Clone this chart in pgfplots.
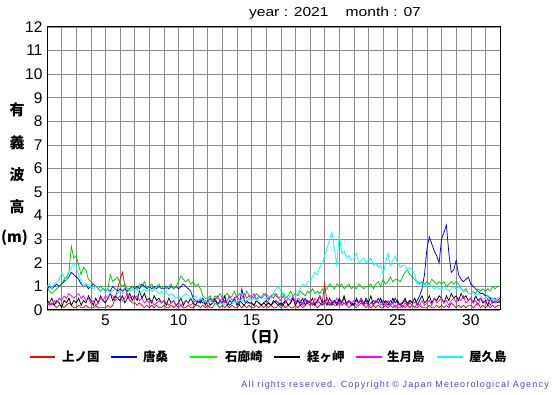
\documentclass[border=0pt]{standalone}
\usepackage{pgfplots}
\pgfplotsset{compat=1.18}
\usepackage{pgfplotstable}
\usepackage{fontspec}
\setmainfont{Liberation Sans}
\newfontfamily\cjk{Noto Sans CJK JP}
\definecolor{cgreen}{RGB}{0,200,0}
\definecolor{ccyan}{RGB}{0,255,255}
\definecolor{cmag}{RGB}{255,0,255}
\definecolor{ccopy}{RGB}{70,70,230}

\pgfplotstableread[row sep=\\,header=false]{
0.3\\0.2\\0.3\\0.2\\0.1\\0.2\\
0.2\\0.1\\0.2\\0.3\\0.2\\0.1\\
0.1\\0.2\\0.1\\0.1\\0.2\\0.1\\
0.1\\0.1\\0.2\\0.1\\0.1\\0.1\\
0.1\\0.2\\0.1\\0.2\\0.5\\0.9\\
1.3\\1.6\\1.0\\0.6\\0.4\\0.3\\
0.3\\0.2\\0.3\\0.2\\0.1\\0.2\\
0.1\\0.2\\0.1\\0.2\\0.1\\0.1\\
0.2\\0.1\\0.1\\0.2\\0.1\\0.2\\
0.1\\0.2\\0.1\\0.1\\0.2\\0.1\\
0.1\\0.2\\0.2\\0.1\\0.2\\0.1\\
0.2\\0.1\\0.1\\0.3\\0.2\\0.1\\
0.2\\0.1\\0.2\\0.1\\0.2\\0.1\\
0.1\\0.2\\0.1\\0.2\\0.1\\0.2\\
0.1\\0.1\\0.2\\0.1\\0.2\\0.1\\
0.2\\0.1\\0.2\\0.1\\0.1\\0.2\\
0.1\\0.2\\0.1\\0.2\\0.1\\0.1\\
0.2\\0.1\\0.2\\0.1\\0.2\\0.3\\
0.2\\0.3\\0.2\\0.1\\0.2\\0.3\\
1.1\\0.3\\0.2\\0.3\\0.2\\0.2\\
0.3\\0.2\\0.3\\0.2\\0.1\\0.2\\
0.2\\0.1\\0.2\\0.3\\0.2\\0.1\\
0.2\\0.1\\0.2\\0.1\\0.2\\0.1\\
0.1\\0.2\\0.1\\0.2\\0.1\\0.2\\
0.1\\0.1\\0.2\\0.1\\0.2\\0.1\\
0.2\\0.1\\0.1\\0.2\\0.1\\0.1\\
0.1\\0.2\\0.1\\0.1\\0.2\\0.1\\
0.2\\0.1\\0.2\\0.1\\0.3\\0.2\\
0.1\\0.2\\0.1\\0.2\\0.1\\0.2\\
0.2\\0.1\\0.2\\0.3\\0.1\\0.2\\
0.1\\0.2\\0.1\\0.2\\0.1\\0.2\\
0.2\\
}\tred

\pgfplotstableread[row sep=\\,header=false]{
0.9\\1.0\\0.9\\1.0\\1.1\\1.0\\
1.1\\1.2\\1.3\\1.4\\1.6\\1.5\\
1.4\\1.3\\1.1\\1.0\\1.1\\0.9\\
1.0\\1.1\\1.0\\0.9\\0.8\\0.9\\
0.8\\0.9\\0.8\\1.0\\0.9\\0.8\\
0.9\\0.8\\0.9\\0.8\\0.9\\1.0\\
0.9\\1.0\\0.9\\1.1\\1.0\\0.9\\
1.0\\0.9\\1.0\\0.9\\1.0\\0.9\\
0.9\\1.0\\0.9\\1.0\\0.9\\1.0\\
0.9\\1.0\\1.1\\1.0\\0.9\\0.8\\
0.5\\0.4\\0.3\\0.4\\0.3\\0.3\\
0.4\\0.5\\0.3\\0.4\\0.3\\0.3\\
0.3\\0.4\\0.3\\0.2\\0.3\\0.4\\
0.3\\0.2\\0.9\\0.4\\0.3\\0.3\\
0.3\\0.2\\0.4\\0.3\\0.2\\0.3\\
0.4\\0.3\\0.2\\0.3\\0.4\\0.3\\
0.2\\0.3\\0.4\\0.2\\0.3\\0.5\\
0.3\\0.4\\0.2\\0.3\\0.5\\0.3\\
0.4\\0.2\\0.3\\0.4\\0.3\\0.2\\
0.3\\0.5\\0.3\\0.2\\0.4\\0.3\\
0.4\\0.3\\0.5\\0.3\\0.4\\0.2\\
0.3\\0.4\\0.3\\0.5\\0.3\\0.4\\
0.2\\0.3\\0.4\\0.3\\0.5\\0.3\\
0.4\\0.3\\0.2\\0.4\\0.3\\0.5\\
0.3\\0.2\\0.3\\0.4\\0.3\\0.4\\
0.3\\0.3\\0.4\\0.6\\0.9\\1.5\\
2.6\\3.1\\2.8\\2.5\\2.3\\2.0\\
3.0\\3.3\\3.6\\2.4\\1.6\\1.7\\
2.1\\1.5\\1.3\\1.2\\1.3\\1.4\\
1.1\\1.0\\0.9\\0.8\\0.7\\0.7\\
0.6\\0.6\\0.5\\0.5\\0.5\\0.4\\
0.5\\
}\tblue

\pgfplotstableread[row sep=\\,header=false]{
1.0\\0.8\\0.7\\0.8\\0.9\\1.0\\
1.1\\1.3\\1.4\\1.6\\2.7\\2.2\\
2.3\\1.9\\1.5\\1.8\\1.7\\1.3\\
1.2\\1.1\\1.0\\0.9\\1.0\\0.9\\
0.8\\0.9\\1.5\\1.2\\1.3\\1.4\\
1.1\\1.0\\1.1\\0.9\\0.9\\1.0\\
1.0\\0.9\\1.1\\1.0\\1.2\\0.9\\
1.0\\1.1\\0.9\\1.0\\1.1\\0.9\\
1.0\\0.9\\1.0\\1.1\\0.9\\1.0\\
1.2\\1.45\\1.3\\1.2\\1.3\\1.1\\
1.2\\1.0\\1.1\\0.9\\0.6\\0.5\\
0.5\\0.6\\0.4\\0.6\\0.5\\0.7\\
0.5\\0.6\\0.7\\0.5\\0.6\\0.8\\
0.5\\0.7\\0.6\\0.5\\0.8\\0.6\\
0.6\\0.5\\0.7\\0.6\\0.5\\0.6\\
0.7\\0.5\\0.6\\0.7\\0.6\\0.5\\
0.6\\0.7\\0.5\\0.6\\0.8\\0.6\\
0.7\\0.6\\0.8\\0.7\\0.6\\0.8\\
0.7\\0.9\\0.7\\0.8\\0.7\\0.9\\
0.8\\0.9\\1.1\\1.0\\0.9\\1.1\\
1.0\\1.1\\0.9\\1.0\\1.1\\0.9\\
1.0\\0.9\\1.1\\1.0\\0.9\\1.0\\
1.0\\1.1\\0.9\\1.1\\1.2\\1.0\\
1.3\\1.1\\1.2\\1.4\\1.2\\1.3\\
1.3\\1.2\\1.4\\1.6\\1.7\\1.5\\
1.4\\1.3\\1.2\\1.1\\1.2\\1.1\\
1.2\\1.1\\1.3\\1.2\\1.1\\1.2\\
1.1\\1.2\\1.0\\1.1\\1.2\\1.1\\
1.2\\1.1\\0.9\\0.8\\0.9\\0.7\\
0.7\\0.8\\0.7\\0.9\\0.8\\0.9\\
0.8\\0.9\\0.8\\1.0\\0.9\\1.0\\
1.0\\
}\tgreen

\pgfplotstableread[row sep=\\,header=false]{
0.4\\0.3\\0.5\\0.2\\0.4\\0.3\\
0.1\\0.4\\0.3\\0.5\\0.2\\0.4\\
0.3\\0.5\\0.2\\0.4\\0.3\\0.6\\
0.4\\0.2\\0.5\\0.3\\0.6\\0.4\\
0.3\\0.5\\0.7\\0.4\\0.6\\0.5\\
0.4\\0.6\\0.3\\0.5\\0.7\\0.4\\
0.6\\0.4\\0.8\\0.5\\0.7\\0.4\\
0.5\\0.3\\0.6\\0.4\\0.5\\0.3\\
0.4\\0.2\\0.5\\0.3\\0.4\\0.2\\
0.3\\0.5\\0.2\\0.4\\0.3\\0.5\\
0.3\\0.2\\0.4\\0.3\\0.5\\0.2\\
0.4\\0.2\\0.3\\0.5\\0.2\\0.4\\
0.3\\0.6\\0.2\\0.4\\0.3\\0.5\\
0.2\\0.4\\0.3\\0.2\\0.4\\0.3\\
0.3\\0.2\\0.4\\0.3\\0.2\\0.3\\
0.2\\0.3\\0.2\\0.4\\0.3\\0.2\\
0.3\\0.2\\0.4\\0.2\\0.3\\0.5\\
0.2\\0.4\\0.3\\0.5\\0.2\\0.4\\
0.3\\0.5\\0.2\\0.4\\0.6\\0.3\\
0.4\\0.2\\0.5\\0.3\\0.4\\0.2\\
0.5\\0.3\\0.6\\0.2\\0.4\\0.3\\
0.2\\0.5\\0.3\\0.4\\0.2\\0.5\\
0.3\\0.6\\0.2\\0.4\\0.3\\0.5\\
0.2\\0.4\\0.3\\0.2\\0.5\\0.3\\
0.4\\0.2\\0.3\\0.5\\0.2\\0.4\\
0.3\\0.5\\0.2\\0.4\\0.6\\0.3\\
0.4\\0.6\\0.3\\0.5\\0.4\\0.6\\
0.5\\0.3\\0.6\\0.4\\0.7\\0.5\\
0.6\\0.4\\0.7\\0.5\\0.6\\0.4\\
0.5\\0.3\\0.6\\0.4\\0.5\\0.3\\
0.4\\0.2\\0.5\\0.3\\0.4\\0.3\\
0.4\\
}\tblack

\pgfplotstableread[row sep=\\,header=false]{
0.2\\0.3\\0.2\\0.4\\0.3\\0.5\\
0.4\\0.6\\0.5\\0.7\\0.6\\0.5\\
0.6\\0.7\\0.5\\0.6\\0.4\\0.5\\
0.3\\0.4\\0.2\\0.3\\0.5\\0.4\\
0.6\\0.5\\0.7\\0.6\\0.4\\0.5\\
0.6\\0.4\\0.5\\0.7\\0.5\\0.6\\
0.5\\0.6\\0.4\\0.5\\0.3\\0.4\\
0.3\\0.4\\0.2\\0.3\\0.4\\0.3\\
0.4\\0.3\\0.2\\0.3\\0.4\\0.2\\
0.3\\0.2\\0.3\\0.4\\0.3\\0.2\\
0.3\\0.4\\0.3\\0.5\\0.4\\0.3\\
0.4\\0.5\\0.3\\0.4\\0.6\\0.4\\
0.5\\0.3\\0.4\\0.6\\0.4\\0.5\\
0.6\\0.4\\0.5\\0.7\\0.5\\0.6\\
0.5\\0.7\\0.4\\0.6\\0.5\\0.7\\
0.6\\0.4\\0.6\\0.5\\0.7\\0.5\\
0.4\\0.6\\0.3\\0.5\\0.4\\0.6\\
0.3\\0.5\\0.4\\0.2\\0.4\\0.3\\
0.4\\0.2\\0.5\\0.3\\0.6\\0.4\\
0.3\\0.5\\0.2\\0.4\\0.3\\0.5\\
0.2\\0.4\\0.3\\0.2\\0.4\\0.3\\
0.4\\0.2\\0.3\\0.5\\0.2\\0.3\\
0.2\\0.3\\0.2\\0.4\\0.3\\0.2\\
0.3\\0.2\\0.4\\0.2\\0.3\\0.1\\
0.2\\0.3\\0.1\\0.3\\0.2\\0.3\\
0.2\\0.1\\0.3\\0.2\\0.4\\0.2\\
0.3\\0.4\\0.2\\0.5\\0.3\\0.4\\
0.5\\0.3\\0.4\\0.2\\0.4\\0.5\\
0.3\\0.5\\0.4\\0.6\\0.3\\0.4\\
0.5\\0.3\\0.4\\0.2\\0.5\\0.4\\
0.3\\0.5\\0.2\\0.4\\0.3\\0.4\\
0.3\\
}\tmag

\pgfplotstableread[row sep=\\,header=false]{
1.0\\1.1\\0.9\\1.1\\1.2\\1.3\\
1.6\\1.4\\1.3\\1.6\\1.8\\2.0\\
1.8\\1.5\\1.2\\1.0\\1.1\\1.0\\
1.0\\0.9\\1.0\\0.9\\0.8\\0.9\\
0.8\\0.9\\0.7\\0.8\\0.9\\0.7\\
0.8\\0.7\\0.8\\0.9\\0.8\\0.9\\
0.8\\0.9\\0.7\\0.8\\0.9\\0.8\\
0.9\\0.8\\0.9\\0.8\\0.7\\0.8\\
0.7\\0.8\\0.6\\0.7\\0.6\\0.5\\
0.6\\0.5\\0.6\\0.7\\0.6\\0.5\\
0.5\\0.6\\0.4\\0.5\\0.4\\0.4\\
0.3\\0.4\\0.3\\0.3\\0.2\\0.3\\
0.3\\0.2\\0.3\\0.3\\0.3\\0.4\\
0.3\\0.4\\0.4\\0.3\\0.4\\0.5\\
0.4\\0.5\\0.4\\0.5\\0.6\\0.5\\
0.5\\0.6\\0.5\\0.7\\0.9\\1.0\\
0.8\\0.7\\0.6\\0.5\\0.6\\0.6\\
0.6\\0.7\\0.9\\1.1\\1.0\\1.2\\
1.2\\1.4\\1.6\\1.5\\1.8\\2.0\\
2.3\\2.6\\3.0\\3.3\\2.6\\1.9\\
3.2\\2.4\\2.5\\2.2\\2.3\\2.1\\
2.2\\2.4\\2.0\\2.1\\2.2\\2.0\\
2.1\\2.2\\1.9\\2.0\\1.8\\1.9\\
1.5\\2.0\\2.4\\1.9\\2.1\\2.3\\
2.0\\1.8\\1.9\\1.9\\1.7\\1.8\\
1.7\\1.5\\1.1\\1.2\\1.0\\1.1\\
1.0\\1.1\\1.0\\0.9\\1.0\\0.9\\
0.9\\1.0\\0.9\\0.8\\0.9\\1.0\\
0.9\\1.0\\0.9\\0.8\\0.8\\0.7\\
0.7\\0.8\\0.6\\0.7\\0.6\\0.5\\
0.5\\0.6\\0.4\\0.5\\0.4\\0.5\\
0.6\\
}\tcyan

\begin{document}
\begin{tikzpicture}[x=1pt,y=1pt]
\begin{axis}[
  at={(47pt,85pt)}, anchor=south west,
  scale only axis, width=453pt, height=283pt,
  xmin=1, xmax=32, ymin=0, ymax=12,
  xtick={5,10,...,30}, minor xtick={1,...,32},
  ytick={0,1,...,12},
  grid=both,
  major grid style={black!45, line width=0.5pt},
  minor grid style={black!45, line width=0.5pt},
  major tick length=0pt, minor tick length=0pt,
  axis line style={black, line width=1pt},
  tick label style={font=\fontsize{15.5}{17}\selectfont},
  /pgf/number format/assume math mode=true,
  xticklabel style={yshift=-1pt},
  yticklabel style={xshift=-1pt},
  clip=true,
]
\addplot[red, line width=0.75pt] table[x expr=1+\coordindex/6, y index=0] {\tred};
\addplot[blue, line width=0.75pt] table[x expr=1+\coordindex/6, y index=0] {\tblue};
\addplot[cgreen, line width=0.75pt] table[x expr=1+\coordindex/6, y index=0] {\tgreen};
\addplot[black, line width=0.75pt] table[x expr=1+\coordindex/6, y index=0] {\tblack};
\addplot[cmag, line width=0.75pt] table[x expr=1+\coordindex/6, y index=0] {\tmag};
\addplot[ccyan, line width=0.75pt] table[x expr=1+\coordindex/6, y index=0] {\tcyan};
\end{axis}
% title
\node[font=\fontsize{13}{15}\selectfont] at (335,382) {\scalebox{1.2}[1]{year : 2021\hspace{1.1em}month : 07}};
% y label
\node[font=\cjk\bfseries\fontsize{15}{17}\selectfont] at (17,285) {有};
\node[font=\cjk\bfseries\fontsize{15}{17}\selectfont] at (17,252) {義};
\node[font=\cjk\bfseries\fontsize{15}{17}\selectfont] at (17,220) {波};
\node[font=\cjk\bfseries\fontsize{15}{17}\selectfont] at (17,188) {高};
\node[font=\cjk\bfseries\fontsize{15}{17}\selectfont, anchor=west, inner sep=0pt] at (1,157) {(m)};
% x label
\node[font=\cjk\bfseries\fontsize{15}{17}\selectfont] at (265,58) {（日）};
% legend
\begin{scope}[line width=2.5pt]
\draw[red] (30,38) -- (55,38);
\draw[blue] (111,38) -- (137,38);
\draw[green] (190,38) -- (217,38);
\draw[black] (274,38) -- (300,38);
\draw[cmag] (356,38) -- (382,38);
\draw[ccyan] (437,38) -- (463,38);
\end{scope}
\begin{scope}[every node/.style={font=\cjk\bfseries\fontsize{12.5}{14}\selectfont, anchor=west, inner sep=0pt}]
\node at (62,38) {上ノ国};
\node at (143,38) {唐桑};
\node at (225,38) {石廊崎};
\node at (307,38) {経ヶ岬};
\node at (387,38) {生月島};
\node at (469,38) {屋久島};
\end{scope}
\node[anchor=east, inner sep=0pt, text=ccopy, font=\addfontfeature{LetterSpace=13}\fontsize{9}{10}\selectfont] at (549,10) {All rights reserved. Copyright © Japan Meteorological Agency};
\pgfresetboundingbox
\path[use as bounding box] (0,0) rectangle (555,395);
\end{tikzpicture}
\end{document}
